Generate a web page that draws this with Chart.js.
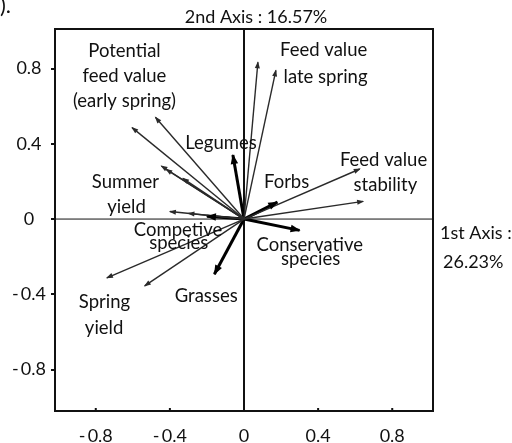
<!DOCTYPE html>
<html>
<head>
<meta charset="utf-8">
<script src="https://cdn.jsdelivr.net/npm/chart.js@4.4.1/dist/chart.umd.min.js"></script>
<style>
  html, body { margin: 0; padding: 0; background: #fff; }
  #wrap { width: 512px; height: 443px; }
</style>
</head>
<body>
<div id="wrap"><canvas id="chart"></canvas></div>
<script>
// response variables (thin arrows)
const varNames = [
  'Feed value late spring (a)', 'Feed value late spring (b)',
  'Potential feed value (a)', 'Potential feed value (b)',
  'Summer yield (a)', 'Summer yield (b)', 'Summer yield (c)',
  'Summer yield (d)', 'Summer yield (e)',
  'Feed value stability (a)', 'Feed value stability (b)',
  'Spring yield (a)', 'Spring yield (b)'
];
const varX = [0.075, 0.172, -0.478, -0.604, -0.446, -0.42, -0.33, -0.40, -0.30, 0.625, 0.643, -0.74, -0.536];
const varY = [0.833, 0.79, 0.541, 0.486, 0.282, 0.264, 0.216, 0.04, 0.03, 0.266, 0.094, -0.312, -0.355];

// species groups (thick arrows)
const groupNames = ['Legumes', 'Forbs', 'Conservative species', 'Grasses', 'Competitive species'];
const groupX = [-0.06, 0.18, 0.30, -0.16, -0.20];
const groupY = [0.34, 0.09, -0.06, -0.293, 0.015];

const tickValues = [-0.8, -0.4, 0, 0.4, 0.8];
const axis1Text = ['1st Axis :', '26.23%'];
const axis2Text = '2nd Axis : 16.57%';

// annotation text, anchored in axis units
const noteText = [
  'Potential', 'feed value', '(early spring)',
  'Feed value', 'late spring',
  'Legumes',
  'Feed value', 'stability',
  'Forbs',
  'Summer', 'yield',
  'Competive', 'species',
  'Conservative', 'species',
  'Grasses',
  'Spring', 'yield'
];
const noteX = [-0.645, -0.645, -0.645, 0.43, 0.44, -0.124, 0.753, 0.763, 0.23, -0.64, -0.634, -0.356, -0.352, 0.355, 0.36, -0.204, -0.753, -0.755];
const noteY = [0.895, 0.761, 0.625, 0.899, 0.754, 0.403, 0.314, 0.181, 0.198, 0.198, 0.062, -0.058, -0.129, -0.138, -0.214, -0.41, -0.44, -0.581];

const FONT = 'Lato, "Noto Sans", sans-serif';
const INK = '#111';

function fmtTick(v) {
  if (v === 0) return '0';
  return v < 0 ? '-\u2009' + Math.abs(v) : String(v);
}

let datasets = [];
varX.forEach((x, i) => {
  datasets.push({
    label: varNames[i],
    data: [{ x: 0, y: 0 }, { x: x, y: varY[i] }],
    borderColor: '#2a2a2a',
    borderWidth: 1.4,
    headLen: 6
  });
});
groupX.forEach((x, i) => {
  datasets.push({
    label: groupNames[i],
    data: [{ x: 0, y: 0 }, { x: x, y: groupY[i] }],
    borderColor: '#000',
    borderWidth: 3,
    headLen: 9
  });
});

const framePlugin = {
  id: 'frame',
  beforeDatasetsDraw(chart) {
    const ctx = chart.ctx;
    const a = chart.chartArea;
    const sx = chart.scales.x, sy = chart.scales.y;
    ctx.save();
    ctx.strokeStyle = '#111';
    // zero lines
    ctx.lineWidth = 1;
    ctx.beginPath();
    ctx.moveTo(a.left, sy.getPixelForValue(0));
    ctx.lineTo(a.right, sy.getPixelForValue(0));
    ctx.stroke();
    ctx.lineWidth = 2;
    ctx.beginPath();
    ctx.moveTo(sx.getPixelForValue(0), a.top);
    ctx.lineTo(sx.getPixelForValue(0), a.bottom);
    ctx.stroke();
    ctx.restore();
  },
  afterDatasetsDraw(chart) {
    const ctx = chart.ctx;
    const a = chart.chartArea;
    const sx = chart.scales.x, sy = chart.scales.y;
    // arrow heads
    chart.data.datasets.forEach((ds, i) => {
      const pts = chart.getDatasetMeta(i).data;
      const p0 = pts[0], p1 = pts[1];
      const ang = Math.atan2(p1.y - p0.y, p1.x - p0.x);
      const len = ds.headLen;
      ctx.save();
      ctx.fillStyle = ds.borderColor;
      ctx.translate(p1.x, p1.y);
      ctx.rotate(ang);
      ctx.beginPath();
      ctx.moveTo(1, 0);
      ctx.lineTo(-len, -len * 0.42);
      ctx.lineTo(-len, len * 0.42);
      ctx.closePath();
      ctx.fill();
      ctx.restore();
    });

    ctx.save();
    // box
    ctx.strokeStyle = '#111';
    ctx.lineWidth = 2;
    ctx.strokeRect(a.left, a.top, a.right - a.left, a.bottom - a.top);
    // inner ticks on bottom edge
    tickValues.forEach(v => {
      const px = sx.getPixelForValue(v);
      ctx.beginPath();
      ctx.moveTo(px, a.bottom);
      ctx.lineTo(px, a.bottom - 3);
      ctx.stroke();
    });

    // annotations
    ctx.fillStyle = INK;
    ctx.font = '18.5px ' + FONT;
    ctx.textAlign = 'center';
    ctx.textBaseline = 'middle';
    noteText.forEach((t, i) => {
      ctx.fillText(t, sx.getPixelForValue(noteX[i]), sy.getPixelForValue(noteY[i]));
    });

    // second axis title, centred over the vertical axis
    ctx.font = '18px ' + FONT;
    ctx.fillText(axis2Text, 256, 17);

    // first axis label on the right
    ctx.textAlign = 'left';
    ctx.fillText(axis1Text[0], a.right + 7, sy.getPixelForValue(0) + 14);
    ctx.fillText(axis1Text[1], a.right + 10, sy.getPixelForValue(0) + 43);

    // panel letter fragment
    ctx.font = '22px ' + FONT;
    ctx.textBaseline = 'alphabetic';
    ctx.fillText(').', 0, 13);
    ctx.restore();
  }
};

new Chart(document.getElementById('chart'), {
  type: 'scatter',
  data: { datasets: datasets },
  options: {
    responsive: true,
    maintainAspectRatio: false,
    animation: false,
    showLine: true,
    elements: { point: { radius: 0, hoverRadius: 0 }, line: { borderCapStyle: 'butt' } },
    layout: { padding: { left: 0, right: 79, top: 29, bottom: 0 } },
    plugins: {
      legend: { display: false },
      tooltip: { enabled: false },
      title: { display: false }
    },
    scales: {
      x: {
        type: 'linear',
        min: -1.02,
        max: 1.02,
        afterBuildTicks: s => { s.ticks = tickValues.map(v => ({ value: v })); },
        afterFit: s => { s.height = 32; },
        grid: { display: false, drawTicks: false },
        border: { display: false },
        ticks: {
          color: INK,
          padding: 14,
          font: { family: FONT, size: 18 },
          callback: v => fmtTick(v)
        }
      },
      y: {
        type: 'linear',
        min: -1.02,
        max: 1.01,
        afterBuildTicks: s => { s.ticks = tickValues.map(v => ({ value: v })); },
        afterFit: s => { s.width = 55; },
        grid: { drawOnChartArea: false, drawTicks: true, tickLength: 4, color: '#111', lineWidth: 2 },
        border: { display: false },
        ticks: {
          color: INK,
          padding: 5,
          crossAlign: 'center',
          font: { family: FONT, size: 18 },
          callback: v => fmtTick(v)
        }
      }
    }
  },
  plugins: [framePlugin]
});
</script>
</body>
</html>
